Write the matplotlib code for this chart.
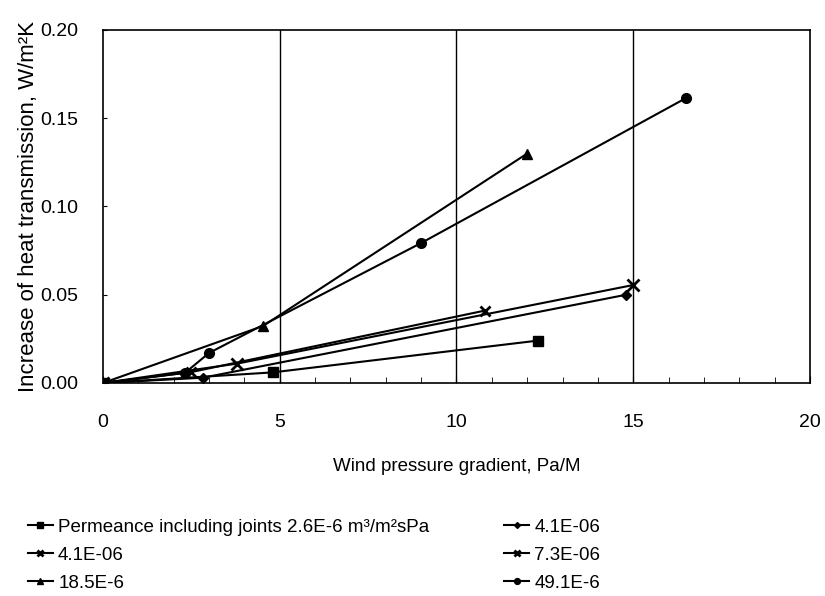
import matplotlib
matplotlib.use("Agg")
import matplotlib.pyplot as plt
from matplotlib.ticker import MultipleLocator

plt.rcParams['font.family'] = ['Liberation Sans', 'DejaVu Sans']

# --> Data
perm_x = [0, 4.8, 12.3]
perm_y = [0, 0.006, 0.024]

d41_x = [0, 2.83, 14.8]
d41_y = [0, 0.003, 0.050]

a41_x = [0, 2.5, 10.8]
a41_y = [0, 0.0062, 0.041]

x73_x = [0, 3.8, 15.0]
x73_y = [0, 0.011, 0.0555]

t185_x = [0, 4.53, 12.0]
t185_y = [0, 0.0323, 0.130]

c491_x = [0, 2.32, 3.0, 9.0, 16.5]
c491_y = [0, 0.0057, 0.017, 0.0793, 0.1615]

labels = ['Permeance including joints 2.6E-6 m\u00b3/m\u00b2sPa', '4.1E-06', '4.1E-06',
          '7.3E-06', '18.5E-6', '49.1E-6']

fig = plt.figure(figsize=(8.25, 5.96), dpi=100)
ax = fig.add_axes([0.1248, 0.3574, 0.857, 0.5923])

lw = 1.5
h_perm, = ax.plot(perm_x, perm_y, color='black', lw=lw, marker='s', ms=7)
h_d41, = ax.plot(d41_x, d41_y, color='black', lw=lw, marker='D', ms=5)
h_a41, = ax.plot(a41_x, a41_y, color='black', lw=lw, marker='x', ms=7, mew=2)
h_x73, = ax.plot(x73_x, x73_y, color='black', lw=lw, marker='x', ms=8, mew=2)
h_t185, = ax.plot(t185_x, t185_y, color='black', lw=lw, marker='^', ms=7)
h_c491, = ax.plot(c491_x, c491_y, color='black', lw=lw, marker='o', ms=7)

# --> Axes
ax.set_xlim(0, 20)
ax.set_ylim(0, 0.20)
ax.xaxis.set_major_locator(MultipleLocator(5))
ax.xaxis.set_minor_locator(MultipleLocator(1))
ax.yaxis.set_major_locator(MultipleLocator(0.05))
ax.yaxis.set_major_formatter(matplotlib.ticker.FormatStrFormatter('%.2f'))
for x in [5, 10, 15]:
    ax.axvline(x, color='black', lw=1.0, zorder=0)

ax.tick_params(axis='x', which='major', direction='in', length=5, pad=22, labelsize=14)
ax.tick_params(axis='x', which='minor', direction='in', length=4)
ax.tick_params(axis='y', which='major', direction='in', length=3, pad=18, labelsize=14)
for s in ax.spines.values():
    s.set_linewidth(1.2)

ax.set_xlabel('Wind pressure gradient, Pa/M', fontsize=13.5, labelpad=20)
ax.set_ylabel('Increase of heat transmission, W/m\u00b2K', fontsize=16, labelpad=1)

# --> Legend, row-major order in two columns
handles = [h_perm, h_a41, h_t185, h_d41, h_x73, h_c491]
leg_labels = [labels[0], labels[2], labels[4], labels[1], labels[3], labels[5]]
fig.legend(handles, leg_labels, loc='upper left', bbox_to_anchor=(0.025, 0.142),
           ncol=2, frameon=False, fontsize=13.5, handlelength=1.3,
           handletextpad=0.3, columnspacing=4.0, labelspacing=0.57,
           markerscale=0.6, borderaxespad=0)

fig.savefig('out.png', dpi=100)
